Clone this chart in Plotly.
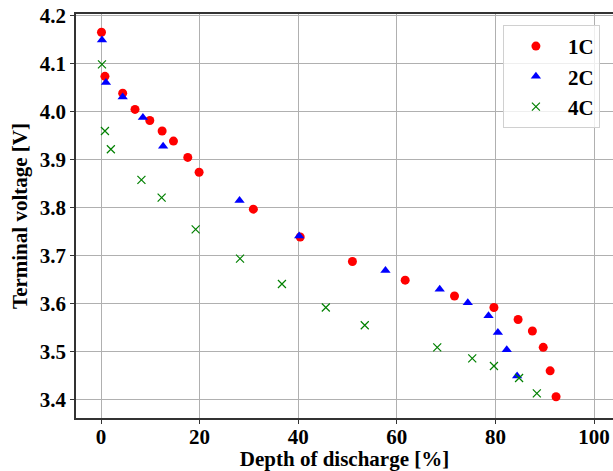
import plotly.graph_objects as go

# 1C
dod_1c = [0.1, 0.8, 4.4, 6.9, 9.9, 12.4, 14.7, 17.6, 19.9, 30.9, 40.4, 51.0, 61.7, 71.7, 79.7, 84.6, 87.5, 89.7, 91.1, 92.3]
v_1c = [4.166, 4.074, 4.039, 4.005, 3.982, 3.960, 3.939, 3.905, 3.874, 3.797, 3.739, 3.688, 3.649, 3.616, 3.592, 3.567, 3.543, 3.509, 3.460, 3.406]
# 2C
dod_2c = [0.2, 1.0, 4.4, 8.5, 12.6, 28.1, 40.2, 57.7, 68.7, 74.4, 78.6, 80.5, 82.3, 84.4]
v_2c = [4.150, 4.061, 4.031, 3.988, 3.928, 3.815, 3.741, 3.669, 3.630, 3.602, 3.575, 3.540, 3.504, 3.449]
# 4C
dod_4c = [0.2, 0.8, 2.0, 8.2, 12.3, 19.2, 28.2, 36.7, 45.6, 53.5, 68.2, 75.3, 79.7, 84.8, 88.4]
v_4c = [4.099, 3.960, 3.922, 3.858, 3.821, 3.755, 3.694, 3.641, 3.592, 3.555, 3.509, 3.486, 3.470, 3.445, 3.413]

x_ticks = [0, 20, 40, 60, 80, 100]
y_ticks = [3.4, 3.5, 3.6, 3.7, 3.8, 3.9, 4.0, 4.1, 4.2]

FONT = "Liberation Serif"

fig = go.Figure()
fig.add_trace(go.Scatter(x=dod_1c, y=v_1c, mode="markers", name="<b>1C</b>",
                         marker=dict(symbol="circle", size=9, color="#ff0000")))
fig.add_trace(go.Scatter(x=dod_2c, y=v_2c, mode="markers", name="<b>2C</b>",
                         marker=dict(symbol="triangle-up", size=9, color="#0000ff")))
fig.add_trace(go.Scatter(x=dod_4c, y=v_4c, mode="markers", name="<b>4C</b>",
                         marker=dict(symbol="x-thin", size=8, color="#008000",
                                     line=dict(width=1.2, color="#008000"))))

fig.update_layout(
    width=613, height=471,
    margin=dict(l=76, r=0, t=14, b=53),
    plot_bgcolor="white", paper_bgcolor="white",
    font=dict(family=FONT, size=21, color="black"),
    showlegend=True,
    legend=dict(x=0.795, y=0.973, xanchor="left", yanchor="top",
                bgcolor="rgba(255,255,255,0.8)", bordercolor="#d0d0d0", borderwidth=1,
                font=dict(family=FONT, size=21, color="black"),
                itemwidth=54, tracegroupgap=0),
)
fig.update_xaxes(
    range=[-5.07, 103.85], tickvals=x_ticks, ticktext=[f"<b>{v}</b>" for v in x_ticks],
    tickfont=dict(family=FONT, size=21), ticklabelstandoff=-5,
    showgrid=True, gridcolor="#b0b0b0", gridwidth=1,
    showline=True, linecolor="#333333", linewidth=1.5, mirror=True,
    ticks="outside", ticklen=4, tickcolor="#333333", zeroline=False,
    title=dict(text="<b>Depth of discharge [%]</b>", font=dict(family=FONT, size=21), standoff=0),
)
fig.update_yaxes(
    range=[3.3616, 4.204], tickvals=y_ticks, ticktext=[f"<b>{v:.1f}</b>" for v in y_ticks],
    tickfont=dict(family=FONT, size=21),
    showgrid=True, gridcolor="#b0b0b0", gridwidth=1,
    showline=True, linecolor="#333333", linewidth=1.5, mirror=False,
    ticks="outside", ticklen=4, tickcolor="#333333", zeroline=False,
    title=dict(text="<b>Terminal voltage [V]</b>", font=dict(family=FONT, size=21), standoff=6),
)

fig.write_html("out.html")
